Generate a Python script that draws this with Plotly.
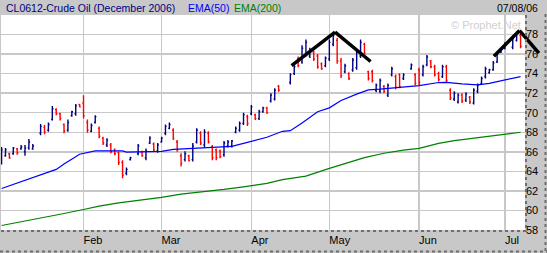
import numpy as np
import plotly.graph_objects as go

# ---------------- data ----------------
dates = ["2006-01-03","2006-01-04","2006-01-05","2006-01-06","2006-01-09","2006-01-10","2006-01-11","2006-01-12","2006-01-13",
         "2006-01-17","2006-01-18","2006-01-19","2006-01-20","2006-01-23","2006-01-24","2006-01-25","2006-01-26","2006-01-27",
         "2006-01-30","2006-01-31","2006-02-01","2006-02-02","2006-02-03","2006-02-06","2006-02-07","2006-02-08","2006-02-09",
         "2006-02-10","2006-02-13","2006-02-14","2006-02-15","2006-02-16","2006-02-17","2006-02-21","2006-02-22","2006-02-23",
         "2006-02-24","2006-02-27","2006-02-28","2006-03-01","2006-03-02","2006-03-03","2006-03-06","2006-03-07","2006-03-08",
         "2006-03-09","2006-03-10","2006-03-13","2006-03-14","2006-03-15","2006-03-16","2006-03-17","2006-03-20","2006-03-21",
         "2006-03-22","2006-03-23","2006-03-24","2006-03-27","2006-03-28","2006-03-29","2006-03-30","2006-03-31","2006-04-03",
         "2006-04-04","2006-04-05","2006-04-06","2006-04-07","2006-04-10","2006-04-11","2006-04-12","2006-04-17","2006-04-18",
         "2006-04-19","2006-04-20","2006-04-21","2006-04-24","2006-04-25","2006-04-26","2006-04-27","2006-04-28","2006-05-01",
         "2006-05-02","2006-05-03","2006-05-04","2006-05-05","2006-05-08","2006-05-09","2006-05-10","2006-05-11","2006-05-12",
         "2006-05-15","2006-05-16","2006-05-17","2006-05-18","2006-05-19","2006-05-22","2006-05-23","2006-05-24","2006-05-25",
         "2006-05-26","2006-05-30","2006-05-31","2006-06-01","2006-06-02","2006-06-05","2006-06-06","2006-06-07","2006-06-08",
         "2006-06-09","2006-06-12","2006-06-13","2006-06-14","2006-06-15","2006-06-16","2006-06-19","2006-06-20","2006-06-21",
         "2006-06-22","2006-06-23","2006-06-26","2006-06-27","2006-06-28","2006-06-29","2006-06-30","2006-07-03","2006-07-05",
         "2006-07-06","2006-07-07"]

opens = [64.9,65.6,65.8,65.8,66.3,66.3,66.0,66.4,66.3,
         67.9,68.5,68.2,69.3,70.3,69.9,68.8,68.2,69.7,
         69.9,70.85,71.0,69.0,68.1,69.0,68.4,67.4,66.7,
         66.7,66.2,65.9,64.9,63.8,65.2,65.8,66.0,65.4,
         66.9,66.8,66.1,67.0,67.9,68.4,68.2,67.0,65.6,
         65.2,65.6,65.2,67.0,67.9,66.7,67.9,66.5,66.2,
         66.1,65.7,66.6,66.6,68.0,68.2,68.9,69.6,69.9,
         69.8,69.4,70.1,70.5,71.2,71.4,72.7,73.1,74.0,
         75.5,75.2,76.0,75.8,76.2,75.8,75.0,74.8,75.5,
         77.0,77.4,75.3,74.2,74.0,74.4,74.6,75.8,77.0,
         74.2,74.2,72.3,72.2,72.7,71.8,73.9,73.7,73.9,
         73.5,74.5,73.9,74.4,73.9,74.9,75.3,74.7,74.0,
         73.7,74.7,72.3,71.4,71.1,71.8,71.3,71.6,71.0,
         72.2,73.0,73.7,74.1,74.4,75.2,76.2,76.6,76.7,
         77.4,77.9]

highs = [66.5,66.4,65.9,66.5,66.4,66.7,66.7,67.3,66.8,
         68.85,68.75,69.0,70.7,70.45,70.0,68.9,69.3,70.2,
         70.9,70.9,71.8,69.3,68.9,69.75,68.6,67.55,67.4,
         66.9,66.35,66.0,65.15,64.4,65.5,66.8,66.1,66.35,
         67.6,66.95,66.9,67.55,68.8,69.0,68.4,67.2,65.85,
         66.05,65.7,66.9,68.4,68.1,68.3,68.1,66.7,66.35,
         66.25,67.1,67.2,67.2,68.6,69.1,70.0,69.8,70.8,
         69.9,70.3,70.6,70.6,72.0,72.5,72.85,74.05,74.9,
         75.75,76.9,77.5,76.65,76.35,76.0,75.15,75.75,77.5,
         78.15,77.65,75.6,75.0,74.15,75.6,76.45,77.5,77.15,
         74.3,74.4,73.0,73.5,72.85,73.0,74.7,73.9,74.05,
         74.05,75.05,74.05,74.6,74.9,75.9,75.4,74.9,74.2,
         74.9,74.9,72.5,72.2,72.0,72.0,72.1,71.7,72.5,
         73.0,73.7,74.7,74.5,75.3,76.15,76.6,77.2,77.8,
         78.3,78.15]

lows = [64.7,65.5,65.3,65.7,65.7,66.2,65.6,66.2,66.2,
        67.7,67.8,68.05,69.2,69.75,69.2,67.9,68.05,69.6,
        69.7,70.55,69.4,67.95,68.0,68.9,67.4,66.7,66.5,
        65.85,65.65,64.65,63.3,63.6,65.1,65.65,65.5,65.15,
        66.8,66.0,65.9,66.95,67.7,68.3,67.2,66.0,64.5,
        65.0,65.0,65.0,66.85,66.7,66.45,66.85,65.15,65.15,
        65.35,65.5,66.45,66.45,67.9,68.05,68.75,68.65,69.75,
        69.25,69.25,70.0,69.9,71.05,71.25,72.15,72.9,73.85,
        74.65,75.0,75.75,75.6,75.3,74.5,74.4,74.65,75.3,
        76.8,75.0,73.55,74.05,73.35,74.2,74.4,75.6,75.95,
        73.3,73.1,72.1,72.0,72.0,71.6,73.7,72.4,72.5,
        73.35,74.4,72.8,72.85,73.7,74.75,74.55,73.7,73.2,
        73.55,73.1,71.3,71.2,70.95,71.0,71.1,70.9,70.85,
        72.0,72.9,73.5,74.0,74.3,75.1,76.1,76.5,76.5,
        77.3,76.6]

closes = [66.2,66.2,65.4,66.4,65.9,66.5,66.4,67.0,66.6,
          68.6,68.0,68.8,70.4,69.9,69.4,68.1,69.0,70.1,
          70.7,70.6,69.7,68.2,68.7,69.6,67.6,66.9,67.2,
          66.0,65.8,64.9,63.6,64.2,65.4,66.6,65.6,66.1,
          67.4,66.2,66.7,67.4,68.6,68.8,67.4,66.2,64.8,
          65.8,65.1,66.6,68.2,66.9,68.0,67.0,65.4,65.4,
          65.5,66.9,67.0,67.1,68.4,68.9,69.8,68.9,70.6,
          69.4,70.1,70.5,70.0,71.8,72.3,72.3,73.9,74.7,
          74.8,76.6,77.2,76.4,75.5,74.7,74.5,75.6,77.2,
          77.9,75.3,73.8,74.8,73.5,75.4,76.2,77.2,76.1,
          73.5,73.3,72.8,73.3,72.2,72.8,74.5,72.6,72.7,
          73.9,74.9,73.0,73.1,74.7,75.7,74.7,73.9,73.4,
          74.7,73.3,71.5,72.0,71.8,71.2,71.9,71.1,72.3,
          72.8,73.5,74.5,74.4,75.1,76.0,76.5,77.0,77.6,
          78.1,76.8]

ema50_dates = ["2006-01-03","2006-01-10","2006-01-17","2006-01-23","2006-01-25","2006-01-31","2006-02-06","2006-02-15",
               "2006-02-16","2006-02-24","2006-03-01","2006-03-06","2006-03-13","2006-03-20","2006-03-27","2006-03-31",
               "2006-04-07","2006-04-13","2006-04-17","2006-04-20","2006-04-26","2006-05-01","2006-05-04","2006-05-10",
               "2006-05-15","2006-05-18","2006-05-25","2006-06-01","2006-06-08","2006-06-12","2006-06-16","2006-06-22",
               "2006-06-27","2006-06-30","2006-07-07"]
ema50_vals = [62.25,62.94,63.62,64.2,64.75,65.75,66.1,66.1,
              65.97,65.98,66.05,66.25,66.36,66.4,66.55,66.97,
              67.49,68.1,68.16,68.95,70.1,70.5,71.25,71.9,
              72.34,72.41,72.57,72.78,73.09,73.1,72.95,72.85,
              73.0,73.26,73.7]

ema200_dates = ["2006-01-03","2006-01-10","2006-01-17","2006-01-25","2006-02-01","2006-02-07","2006-02-14","2006-02-22",
                "2006-03-01","2006-03-08","2006-03-16","2006-03-23","2006-03-30","2006-04-07","2006-04-13","2006-04-21",
                "2006-05-01","2006-05-08","2006-05-12","2006-05-19","2006-05-26","2006-06-01","2006-06-08","2006-06-14",
                "2006-06-21","2006-06-29","2006-07-07"]
ema200_vals = [58.46,58.83,59.18,59.69,60.1,60.44,60.78,61.06,
               61.33,61.67,61.91,62.15,62.42,62.77,63.15,63.52,
               64.3,64.9,65.4,65.85,66.18,66.36,66.87,67.14,
               67.38,67.72,68.0]

month_ticks = ["2006-02-01","2006-03-01","2006-04-03","2006-05-01","2006-06-01","2006-07-03"]
month_labels = ["Feb","Mar","Apr","May","Jun","Jul"]
price_ticks = [58,60,62,64,66,68,70,72,74,76,78]

# hand-drawn trend lines (date, price)
trend_a = [("2006-04-17 07:40", 74.83), ("2006-05-02 11:15", 78.24), ("2006-05-15 13:40", 75.24)]
trend_b = [("2006-06-28 04:00", 75.79), ("2006-07-06 18:00", 78.41), ("2006-07-13 16:50", 76.10)]

title_text = "CL0612-Crude Oil (December 2006)"
date_text = "07/08/06"

# ---------------- layout geometry ----------------
W, H = 547, 253
ML, MR, MT, MB = 1, 22, 15, 23
PW, PH = W - ML - MR, H - MT - MB
x_range = ["2006-01-02 20:24", "2006-07-10 03:22"]
y_range = [58, 80]

def wd(s):
    t = np.datetime64(s, 'm')
    day = t.astype('datetime64[D]')
    frac = (t - day.astype('datetime64[m]')).astype(float) / 1440.0
    return np.busday_count(np.datetime64('2006-01-03'), day) + frac

K0, K1 = wd(x_range[0]), wd(x_range[1])

def data_to_paper(d, p):
    return (wd(d) - K0) / (K1 - K0), (p - y_range[0]) / (y_range[1] - y_range[0])

def px(x):
    return (x - ML) / PW

def py(y):
    return (H - MB - y) / PH

fig = go.Figure()

fig.add_trace(go.Ohlc(
    x=dates, open=opens, high=highs, low=lows, close=closes,
    increasing=dict(line=dict(color="#000080", width=1.4)),
    decreasing=dict(line=dict(color="#FF0000", width=1.4)),
    tickwidth=0.3, hoverinfo="skip", showlegend=False))

fig.add_trace(go.Scatter(x=ema50_dates, y=ema50_vals, mode="lines",
                         line=dict(color="#0000FF", width=1.2), hoverinfo="skip", showlegend=False))
fig.add_trace(go.Scatter(x=ema200_dates, y=ema200_vals, mode="lines",
                         line=dict(color="#008000", width=1.2), hoverinfo="skip", showlegend=False))

shapes = []
for tr in (trend_a, trend_b):
    for (d0, p0), (d1, p1) in zip(tr[:-1], tr[1:]):
        x0, y0 = data_to_paper(d0, p0)
        x1, y1 = data_to_paper(d1, p1)
        shapes.append(dict(type="line", xref="paper", yref="paper", x0=x0, y0=y0, x1=x1, y1=y1,
                           line=dict(color="black", width=3.5), layer="above"))

# dotted frame lines
dot = dict(color="#6E6E6E", width=2, dash="dot")
shapes.append(dict(type="line", xref="paper", yref="paper", x0=px(526), x1=px(526), y0=py(15), y1=py(232), line=dot))
shapes.append(dict(type="line", xref="paper", yref="paper", x0=px(1), x1=px(527), y0=py(231), y1=py(231), line=dot))
shapes.append(dict(type="line", xref="paper", yref="paper", x0=px(545.5), x1=px(545.5), y0=py(14), y1=py(253), line=dot))
shapes.append(dict(type="line", xref="paper", yref="paper", x0=px(0), x1=px(547), y0=py(251.5), y1=py(251.5), line=dot))

font_name = "Liberation Sans, Arial, sans-serif"
hdr = 10.5
annotations = [
    dict(text=title_text, xref="paper", yref="paper", x=px(4), y=py(8), xanchor="left", yanchor="middle",
         showarrow=False, font=dict(family=font_name, size=hdr, color="#000080")),
    dict(text="EMA(50)", xref="paper", yref="paper", x=px(186), y=py(8), xanchor="left", yanchor="middle",
         showarrow=False, font=dict(family=font_name, size=hdr, color="#0000FF")),
    dict(text="EMA(200)", xref="paper", yref="paper", x=px(232), y=py(8), xanchor="left", yanchor="middle",
         showarrow=False, font=dict(family=font_name, size=hdr, color="#008000")),
    dict(text=date_text, xref="paper", yref="paper", x=px(540), y=py(8), xanchor="right", yanchor="middle",
         showarrow=False, font=dict(family=font_name, size=hdr, color="black")),
    dict(text="© Prophet.Net", xref="paper", yref="paper", x=px(523), y=py(25), xanchor="right", yanchor="middle",
         showarrow=False, font=dict(family=font_name, size=11, color="#D0D0D0")),
]

fig.update_layout(
    width=W, height=H,
    margin=dict(l=ML, r=MR, t=MT, b=MB, pad=0),
    paper_bgcolor="#C8C8C8", plot_bgcolor="white",
    showlegend=False, shapes=shapes, annotations=annotations,
    font=dict(family=font_name, size=11, color="black"),
    xaxis=dict(type="date", range=x_range, rangebreaks=[dict(bounds=["sat", "mon"])],
               rangeslider=dict(visible=False), tickvals=month_ticks, ticktext=month_labels,
               ticklabelposition="outside right", ticks="", ticklabelstandoff=2,
               showgrid=True, gridcolor="#C8C8C8", gridwidth=1.5,
               zeroline=False, showline=False, fixedrange=True, tickfont=dict(size=11)),
    yaxis=dict(side="right", range=y_range, tickvals=price_ticks, ticks="", showgrid=True,
               gridcolor="#C8C8C8", gridwidth=1.5, zeroline=False, showline=False, fixedrange=True,
               tickfont=dict(size=11)),
)

fig.write_html("out.html", config={"displayModeBar": False, "staticPlot": True})
